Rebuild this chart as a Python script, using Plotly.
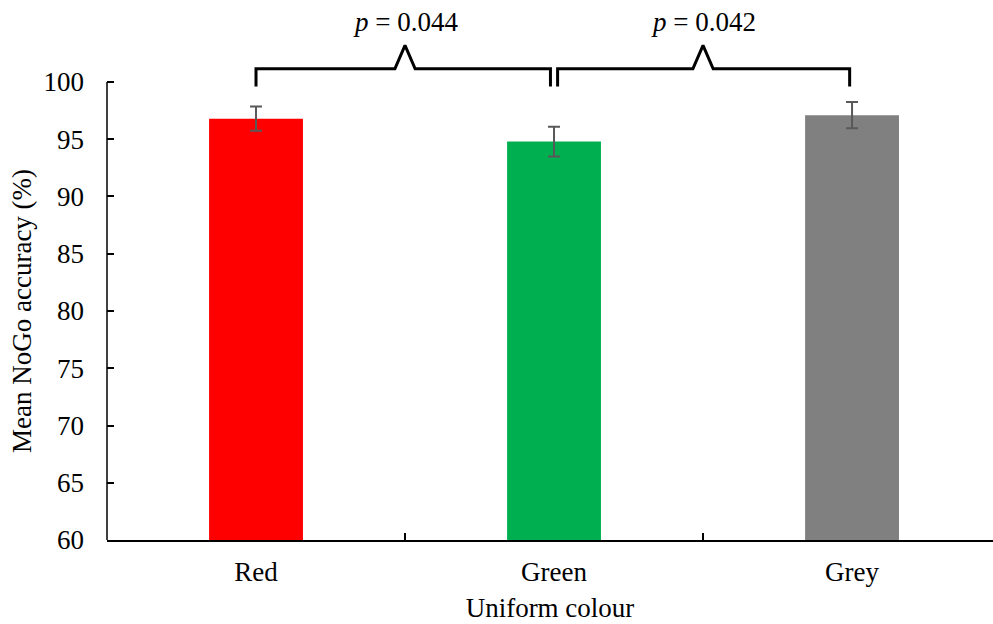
import plotly.graph_objects as go

# ---- data ----
categories = ["Red", "Green", "Grey"]
means = [96.8, 94.8, 97.1]
errors = [1.05, 1.3, 1.15]
bar_colors = ["#FF0000", "#00B050", "#808080"]
comparisons = [(0, 1, "0.044"), (1, 2, "0.042")]
y_ticks = [60, 65, 70, 75, 80, 85, 90, 95, 100]

FONT = "Liberation Serif"
FS = 27

fig = go.Figure()
xs = list(range(len(categories)))
fig.add_trace(go.Bar(
    x=xs, y=means, width=0.315,
    marker=dict(color=bar_colors, line=dict(width=0)),
    error_y=dict(type="data", array=errors, visible=True,
                 color="#595959", thickness=2, width=6),
    showlegend=False,
))

# comparison brackets
y_low, y_mid, y_peak = 99.6, 101.15, 103.2
half_gap = 0.012
caret = 0.034
annotations = []
for i, (a, b, p) in enumerate(comparisons):
    xa = a + (half_gap if i > 0 else 0.0)
    xb = b - (half_gap if i < len(comparisons) - 1 else 0.008)
    m = (a + b) / 2
    bx = [xa, xa, m - caret, m, m + caret, xb, xb]
    by = [y_low, y_mid, y_mid, y_peak, y_mid, y_mid, y_low]
    fig.add_trace(go.Scatter(x=bx, y=by, mode="lines",
                             line=dict(color="black", width=3),
                             hoverinfo="skip", showlegend=False))
    annotations.append(dict(x=m, y=105.25, xref="x", yref="y",
                            text=f"<i>p</i> = {p}", showarrow=False,
                            font=dict(family=FONT, size=FS, color="black"),
                            xanchor="center", yanchor="middle"))

annotations.append(dict(x=-0.0959, y=80, xref="paper", yref="y",
                        text="Mean NoGo accuracy (%)", textangle=-90,
                        showarrow=False, xanchor="center", yanchor="middle",
                        font=dict(family=FONT, size=FS, color="black")))

fig.update_layout(
    width=993, height=624,
    margin=dict(l=107, r=0, t=0, b=84),
    plot_bgcolor="white", paper_bgcolor="white",
    font=dict(family=FONT, size=FS, color="black"),
    annotations=annotations,
    shapes=[dict(type="line", xref="paper", yref="y", x0=0, x1=0,
                 y0=60, y1=100, line=dict(color="black", width=1.5))],
    xaxis=dict(
        range=[-0.5, 2.473], showgrid=False, zeroline=False,
        showline=True, linecolor="black", linewidth=1.5,
        tickmode="array", tickvals=xs, ticktext=categories, ticks="",
        ticklabelstandoff=7,
        minor=dict(tickmode="array", tickvals=[0.5, 1.5], ticks="inside",
                   ticklen=7, tickwidth=1.5, tickcolor="black"),
        title=dict(text="Uniform colour", standoff=12,
                   font=dict(family=FONT, size=FS)),
    ),
    yaxis=dict(
        range=[60, 107.16], showgrid=False, zeroline=False, showline=False,
        tickmode="array", tickvals=y_ticks, ticks="inside", ticklen=7,
        tickwidth=1.5, tickcolor="black", ticklabelstandoff=22,
    ),
)

fig.write_html("out.html")
